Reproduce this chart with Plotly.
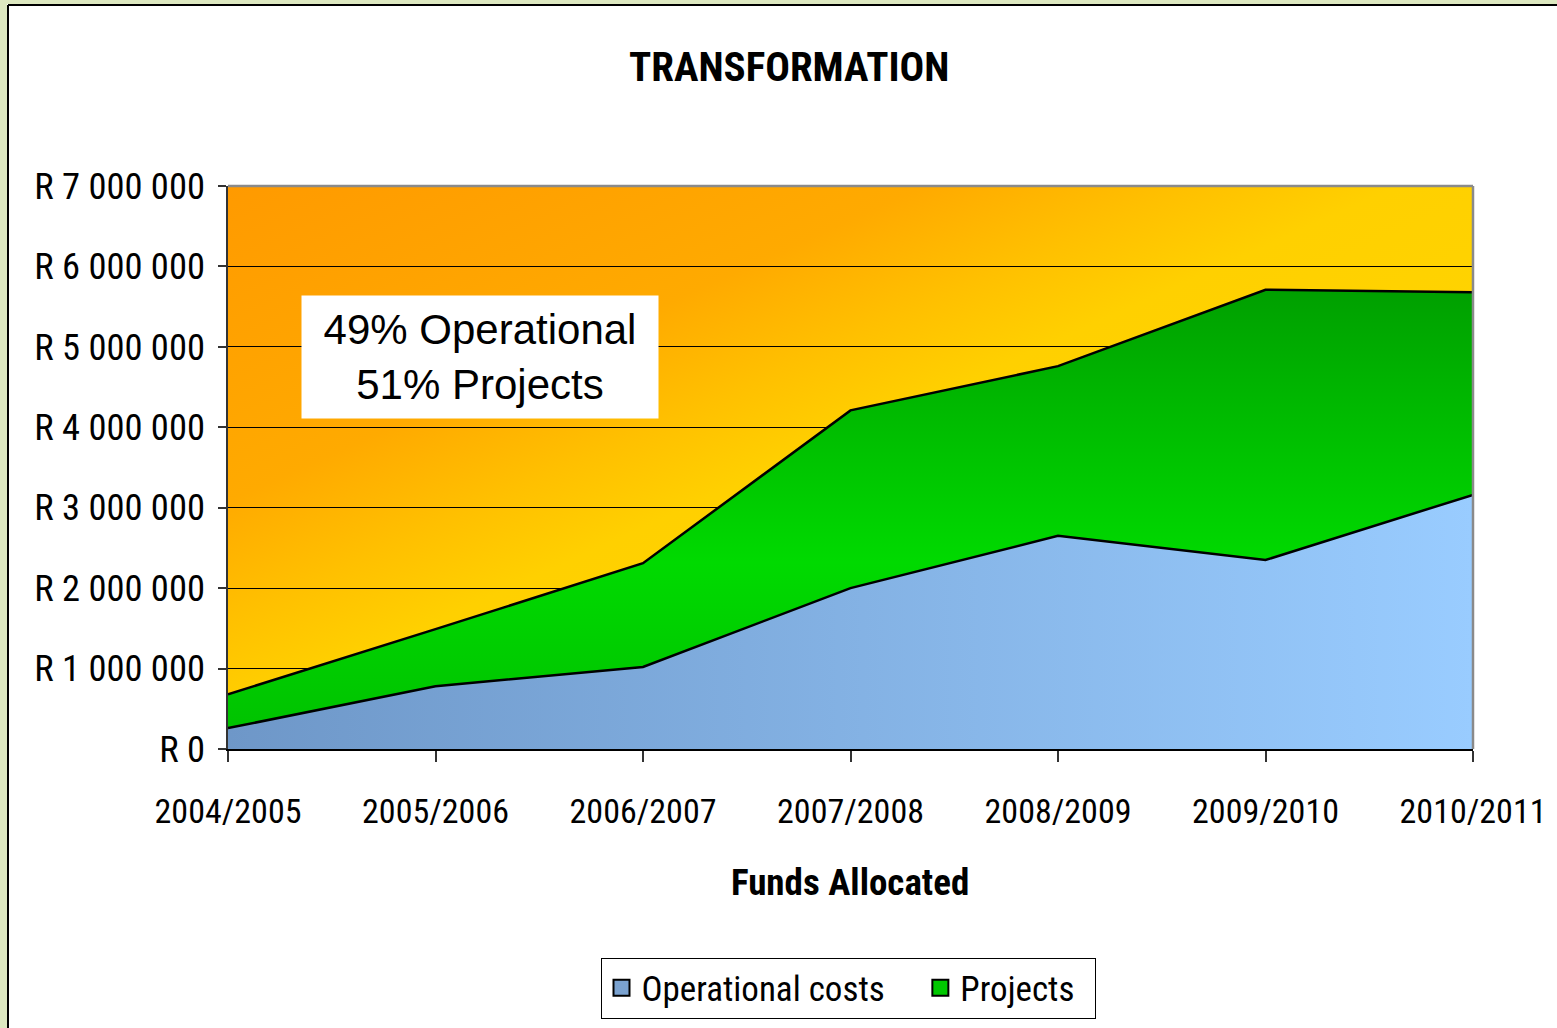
import base64
import plotly.graph_objects as go

# ---------------- data ----------------
years = ["2004/2005", "2005/2006", "2006/2007", "2007/2008", "2008/2009", "2009/2010", "2010/2011"]
operational = [260000, 780000, 1020000, 2000000, 2650000, 2350000, 3160000]
projects = [420000, 710000, 1290000, 2210000, 2110000, 3360000, 2520000]
y_tickvals = [0, 1000000, 2000000, 3000000, 4000000, 5000000, 6000000, 7000000]
y_ticktext = ["R 0", "R 1 000 000", "R 2 000 000", "R 3 000 000", "R 4 000 000",
              "R 5 000 000", "R 6 000 000", "R 7 000 000"]
series_names = ["Operational costs", "Projects"]
title_text = "TRANSFORMATION"
xaxis_title = "Funds Allocated"
box_text = "49% Operational<br>51% Projects"

NARROW = "Roboto, Liberation Sans, sans-serif"
SANS = "Liberation Sans, Arial, sans-serif"


def nfont(size):
    return dict(family=NARROW, size=size, color="black")


W, H = 1557, 1028
L, R, T, B = 228, 1473, 186, 749
pw, ph = R - L, B - T


def px_x(x):
    return (x - L) / pw


def px_y(y):
    return (B - y) / ph


fig = go.Figure()

fig.add_trace(go.Scatter(
    x=years, y=operational, name=series_names[0], stackgroup="one", showlegend=False,
    mode="lines", line=dict(color="black", width=2.5),
    fillgradient=dict(type="horizontal",
                      colorscale=[[0, "#6e97c8"], [1, "#99ccff"]]),
))
fig.add_trace(go.Scatter(
    x=years, y=projects, name=series_names[1], stackgroup="one", showlegend=False,
    mode="lines", line=dict(color="black", width=2.5),
    fillgradient=dict(type="vertical", start=0, stop=5800000,
                      colorscale=[[0, "#00c000"], [0.4, "#00da00"], [1, "#009e00"]]),
))
# legend-only entries with square swatches
for nm, col in zip(series_names, ["#7aa2d0", "#00c800"]):
    fig.add_trace(go.Scatter(
        x=[None], y=[None], name=nm, mode="markers",
        marker=dict(symbol="square", size=22, color=col, line=dict(color="black", width=2)),
    ))

# diagonal orange→yellow plot background
svg = ('<svg xmlns="http://www.w3.org/2000/svg" width="100" height="100" preserveAspectRatio="none">'
       '<defs><linearGradient id="g" x1="0" y1="0" x2="1" y2="1">'
       '<stop offset="0" stop-color="#FF9A00"/><stop offset="0.28" stop-color="#FFAA00"/>'
       '<stop offset="0.385" stop-color="#FFC000"/><stop offset="0.47" stop-color="#FFD000"/>'
       '<stop offset="1" stop-color="#FFDC00"/></linearGradient></defs>'
       '<rect width="100" height="100" fill="url(#g)"/></svg>')
src = "data:image/svg+xml;base64," + base64.b64encode(svg.encode()).decode()
fig.add_layout_image(dict(source=src, xref="paper", yref="paper", x=0, y=1,
                          sizex=1, sizey=1, sizing="stretch", layer="below",
                          xanchor="left", yanchor="top"))

# outer frame: green strips and black edge
shapes = [
    dict(type="rect", xref="paper", yref="paper", x0=px_x(-5), x1=px_x(W + 5),
         y0=px_y(4), y1=px_y(-5), fillcolor="#dde8c0", line=dict(width=0), layer="above"),
    dict(type="rect", xref="paper", yref="paper", x0=px_x(-5), x1=px_x(7),
         y0=px_y(H + 5), y1=px_y(-5), fillcolor="#dde8c0", line=dict(width=0), layer="above"),
    dict(type="line", xref="paper", yref="paper", x0=px_x(8), x1=px_x(W + 5),
         y0=px_y(5), y1=px_y(5), line=dict(color="black", width=2), layer="above"),
    dict(type="line", xref="paper", yref="paper", x0=px_x(8), x1=px_x(8),
         y0=px_y(5), y1=px_y(H + 5), line=dict(color="black", width=2), layer="above"),
    # plot area top/right gray border
    dict(type="line", xref="paper", yref="paper", x0=0, x1=1, y0=1, y1=1,
         line=dict(color="#8a8a8a", width=2.5), layer="above"),
    dict(type="line", xref="paper", yref="paper", x0=1, x1=1, y0=0, y1=1,
         line=dict(color="#8a8a8a", width=2.5), layer="above"),
]

annotations = [
    dict(text="<b>" + title_text + "</b>", xref="paper", yref="paper",
         x=px_x(789), y=px_y(67), showarrow=False, xanchor="center", yanchor="middle",
         font=nfont(41)),
    dict(text="<b>" + xaxis_title + "</b>", xref="paper", yref="paper",
         x=px_x(850), y=px_y(882), showarrow=False, xanchor="center", yanchor="middle",
         font=nfont(37)),
    dict(text=box_text, xref="paper", yref="paper", x=px_x(480), y=px_y(357),
         showarrow=False, xanchor="center", yanchor="middle", bgcolor="white",
         width=350, height=116, borderpad=3, align="center",
         font=dict(family=SANS, size=42, color="black")),
]

fig.update_layout(
    width=W, height=H,
    margin=dict(l=L, r=W - R, t=T, b=H - B, autoexpand=False),
    paper_bgcolor="white", plot_bgcolor="rgba(0,0,0,0)",
    showlegend=True,
    legend=dict(orientation="h", x=px_x(848), y=px_y(988), xanchor="center", yanchor="middle",
                bgcolor="white", bordercolor="black", borderwidth=1,
                font=nfont(35), itemwidth=30, traceorder="normal"),
    shapes=shapes, annotations=annotations,
    xaxis=dict(type="category", range=[0, 6], showgrid=False, zeroline=False,
               showline=True, linecolor="black", linewidth=2,
               ticks="outside", ticklen=11, tickcolor="#333333", tickwidth=1.5,
               tickfont=nfont(34), ticklabelstandoff=20),
    yaxis=dict(range=[0, 7000000], tickvals=y_tickvals, ticktext=y_ticktext,
               showgrid=True, gridcolor="black", gridwidth=1, zeroline=False,
               showline=True, linecolor="#333333", linewidth=1.5,
               ticks="outside", ticklen=8, tickcolor="#333333", tickwidth=1.5,
               tickfont=nfont(36.5), ticklabelstandoff=6),
)

post = ("document.body.style.margin='0';"
        "var s=document.createElement('style');"
        "s.textContent='.main-svg text{font-stretch:condensed !important;}';"
        "document.head.appendChild(s);")
fig.write_html("out.html", post_script=post, config={"displayModeBar": False})
